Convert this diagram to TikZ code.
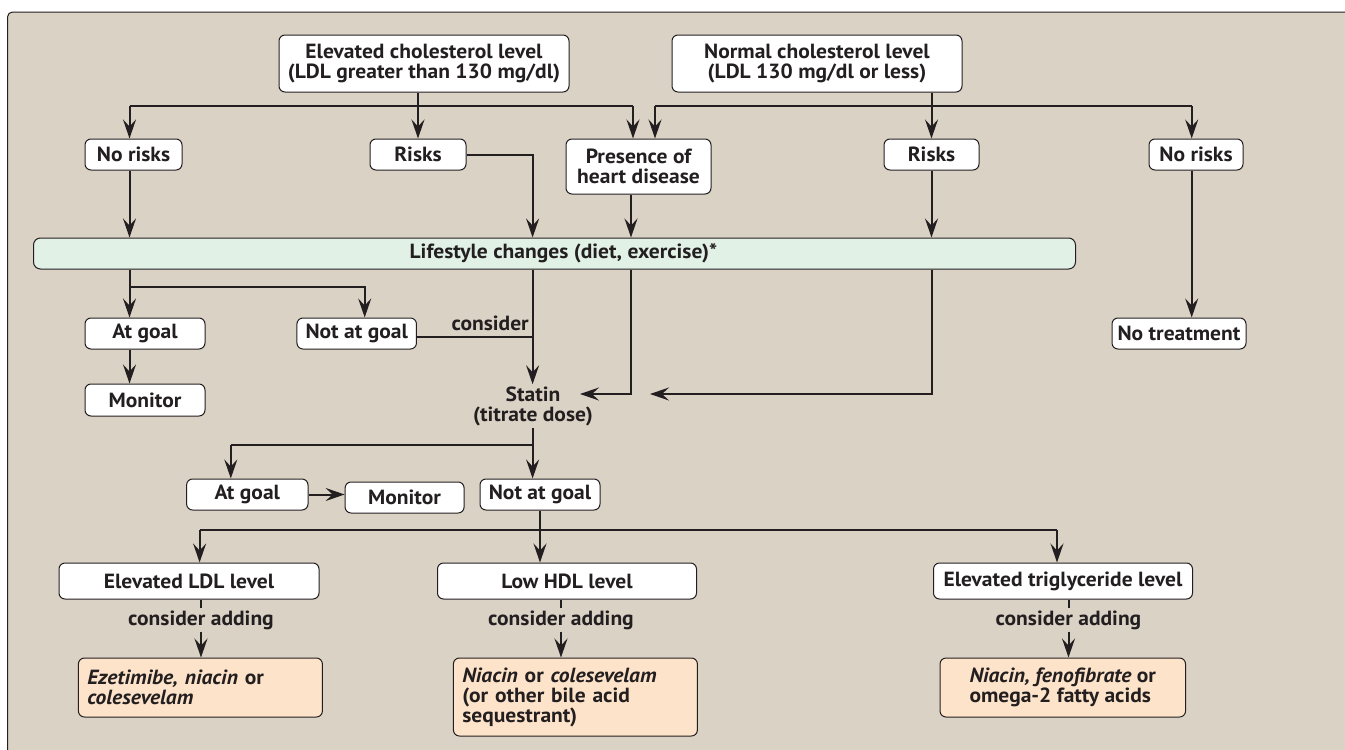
\documentclass[tikz,border=0pt]{standalone}
\usepackage{fontspec}
\setmainfont{PT Sans}[FakeStretch=1.05]
\usetikzlibrary{arrows.meta,calc}
\definecolor{bg}{HTML}{DBD2C6}
\definecolor{ink}{HTML}{231F20}
\definecolor{lsgreen}{HTML}{E1F1E6}
\definecolor{drug}{HTML}{FDE3C9}
\newcommand\myfs{\fontsize{20.5}{20}\selectfont\bfseries}
\begin{document}
\begin{tikzpicture}[x=1pt,y=-1pt,
  ln/.style={line width=2pt, draw=ink},
  arr/.style={ln, -{Stealth[length=19pt,width=13pt,inset=7pt]}},
  box/.style={draw=ink, line width=1pt, fill=white, rounded corners=6pt, align=center, font=\myfs, text=ink, inner sep=2pt},
  obox/.style={box, fill=drug, align=left, inner xsep=9pt},
  lbl/.style={font=\myfs, text=ink, align=center, inner sep=2pt}]
\useasboundingbox (0,0) rectangle (1345,750);
\fill[white] (0,0) rectangle (1345,750);
\draw[fill=bg, draw=ink, line width=1pt, rounded corners=5pt] (7.5,12) rectangle (1400,800);

% nodes
\node[box, minimum width=290pt, minimum height=57pt] (ech) at (424,63.5) {Elevated cholesterol level\\(LDL greater than 130 mg/dl)};
\node[box, minimum width=290pt, minimum height=57pt] (nch) at (817,63.5) {Normal cholesterol level\\(LDL 130 mg/dl or less)};
\node[box, minimum width=97pt, minimum height=31pt] (nr1) at (133.5,154.5) {No risks};
\node[box, minimum width=96pt, minimum height=31pt] (rk1) at (418,154.5) {Risks};
\node[box, minimum width=145pt, minimum height=55pt] (phd) at (638.5,166.5) {Presence of\\heart disease};
\node[box, minimum width=95pt, minimum height=31pt] (rk2) at (931.5,154.5) {Risks};
\node[box, minimum width=94pt, minimum height=31pt] (nr2) at (1196,154.5) {No risks};
\node[box, fill=lsgreen, minimum width=1042pt, minimum height=31pt, rounded corners=7pt] (ls) at (554.5,253.5) {\hspace*{18pt}Lifestyle changes (diet, exercise)*};
\node[box, minimum width=120pt, minimum height=31pt] (ag1) at (145,333.5) {At goal};
\node[box, minimum width=119.5pt, minimum height=31pt] (nag1) at (356.7,333.5) {Not at goal};
\node[box, minimum width=120pt, minimum height=32pt] (mon1) at (145,400) {Monitor};
\node[box, minimum width=134pt, minimum height=31pt] (nt) at (1179,333.5) {No treatment};
\node[lbl] (st) at (533,406) {Statin\\(titrate dose)};
\node[box, minimum width=121.4pt, minimum height=31pt] (ag2) at (247.3,494.5) {At goal};
\node[box, minimum width=119pt, minimum height=31pt] (mon2) at (404.6,497.5) {Monitor};
\node[box, minimum width=120pt, minimum height=31pt] (nag2) at (540,494.5) {Not at goal};
\node[box, minimum width=260pt, minimum height=36pt] (ldl) at (189,581) {Elevated LDL level};
\node[box, minimum width=259pt, minimum height=36pt] (hdl) at (567,581) {Low HDL level};
\node[box, minimum width=259pt, minimum height=36pt] (tri) at (1063,581) {Elevated triglyceride level};
\node[lbl] (ca1) at (201,620) {consider adding};
\node[lbl] (ca2) at (561,620) {consider adding};
\node[lbl] (ca3) at (1068.5,620) {consider adding};
\node[obox, minimum height=59pt, text width=226pt] (ox1) at (200.4,687.5) {\textit{Ezetimibe, niacin} or\\\textit{colesevelam}};
\node[obox, minimum height=78pt, text width=226pt] (ox2) at (575.4,697) {\textit{Niacin} or \textit{colesevelam}\\(or other bile acid\\sequestrant)};
\node[obox, minimum width=245.5pt, minimum height=59pt] (ox3) at (1062.8,687.5) {\textit{Niacin, fenofibrate} or\\omega-2 fatty acids};
\node[lbl, anchor=base east, inner sep=0pt] (cl) at (529,330) {consider};

% junction coordinates
\coordinate (e1) at (129.5,106); \coordinate (e2) at (633,106);
\coordinate (n1) at (655,106); \coordinate (n2) at (1191.7,106);
\coordinate (x533) at (532.6,0); \coordinate (x631) at (631,0);
\coordinate (b1) at (129.5,287);
\coordinate (cons) at (532.6,337);
\coordinate (sa) at (580,394); \coordinate (sb) at (650,394);
\coordinate (s1) at (532.6,445); \coordinate (s0) at (230.8,445);
\coordinate (t1) at (199.6,530); \coordinate (t2) at (1057,530);

% top connectors
\draw[ln] (e1) -- (e2);
\draw[ln] (n1) -- (n2);
\draw[arr] (rk1.north |- ech.south) -- (rk1.north);
\draw[arr] (e1) -- (e1 |- nr1.north);
\draw[arr] (e2) -- (e2 |- phd.north);
\draw[arr] (n1) -- (n1 |- phd.north);
\draw[arr] (rk2.north |- nch.south) -- (rk2.north);
\draw[arr] (n2) -- (n2 |- nr2.north);

% into lifestyle
\draw[arr] (e1 |- nr1.south) -- (e1 |- ls.north);
\draw[arr] (rk1.east) -| (x533 |- ls.north);
\draw[arr] (x631 |- phd.south) -- (x631 |- ls.north);
\draw[arr] (rk2.south) -- (rk2.south |- ls.north);
\draw[arr] (n2 |- nr2.south) -- (n2 |- nt.north);

% below lifestyle
\draw[arr] (e1 |- ls.south) -- (e1 |- ag1.north);
\draw[arr] (b1) -| ([xshift=8pt]nag1.north);
\draw[arr] (e1 |- ag1.south) -- (e1 |- mon1.north);
\draw[ln] (nag1.east |- cons) -- (cons);
\draw[arr] (x533 |- ls.south) -- (x533 |- st.north);
\draw[arr] (x631 |- ls.south) |- (sa);
\draw[arr] (rk2.south |- ls.south) |- (sb);

% statin outcomes
\draw[ln] (x533 |- st.south) -- (s1) -- (s0);
\draw[arr] (s1) -- (s1 |- nag2.north);
\draw[arr] (s0) -- (s0 |- ag2.north);
\draw[arr] (ag2.east) -- (ag2.east -| mon2.west);
\draw[arr] (nag2.south) -- (nag2.south |- hdl.north);
\draw[ln] (t1) -- (t2);
\draw[arr] (t1) -- (t1 |- ldl.north);
\draw[arr] (t2) -- (t2 |- tri.north);

% consider adding
\draw[ln] (ca1.north |- ldl.south) -- (ca1.north);
\draw[arr] (ca1.south) -- (ca1.south |- ox1.north);
\draw[ln] (ca2.north |- hdl.south) -- (ca2.north);
\draw[arr] (ca2.south) -- (ca2.south |- ox2.north);
\draw[ln] (ca3.north |- tri.south) -- (ca3.north);
\draw[arr] (ca3.south) -- (ca3.south |- ox3.north);
\end{tikzpicture}
\end{document}
